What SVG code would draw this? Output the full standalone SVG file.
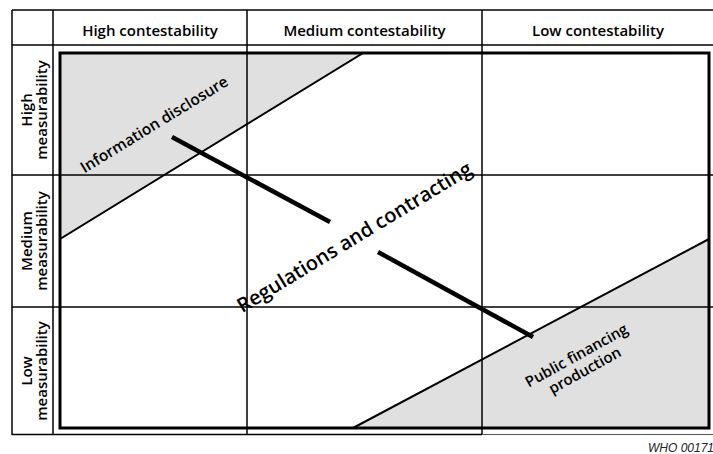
<svg xmlns="http://www.w3.org/2000/svg" width="713" height="454" viewBox="0 0 713 454">
<style>
.t{font-family:"Open Sans","Liberation Sans",sans-serif;font-weight:600;fill:#000}
.h{font-size:15px;text-anchor:middle}
.g{stroke:#000;stroke-width:1.5;fill:none}
.shade{fill:#e0e0e0;stroke:#000;stroke-width:2}
</style>
<rect width="713" height="454" fill="#fff"/>
<g id="shapes">
<polygon class="shade" points="60,53 363,53 60,239"/>
<polygon class="shade" points="709,239 709,428 353,428"/>
</g>
<g id="grid">
<line class="g" x1="12" y1="10" x2="713" y2="10" stroke-width="2"/>
<line class="g" x1="12" y1="45" x2="713" y2="45"/>
<line class="g" x1="12" y1="10" x2="12" y2="435" stroke-width="2"/>
<line class="g" x1="53" y1="10" x2="53" y2="435"/>
<line class="g" x1="247" y1="10" x2="247" y2="435"/>
<line class="g" x1="482" y1="10" x2="482" y2="435"/>
<line class="g" x1="12" y1="175" x2="713" y2="175"/>
<line class="g" x1="12" y1="307" x2="713" y2="307"/>
<line class="g" x1="12" y1="434.5" x2="482" y2="434.5" stroke-width="2.5"/>
<line x1="482" y1="434.5" x2="713" y2="434.5" stroke="#555" stroke-width="1.2"/>
<rect x="60" y="53" width="649" height="375" fill="none" stroke="#000" stroke-width="3"/>
</g>
<g id="connectors">
<line x1="172" y1="137" x2="330" y2="222" stroke="#000" stroke-width="4.5"/>
<line x1="378" y1="252" x2="533" y2="337" stroke="#000" stroke-width="4.5"/>
</g>
<g id="headers">
<text class="t h" x="150" y="36">High contestability</text>
<text class="t h" x="364.5" y="36">Medium contestability</text>
<text class="t h" x="598" y="36">Low contestability</text>
<text class="t h" transform="translate(0,110) rotate(-90)"><tspan x="0" y="31.5">High</tspan><tspan x="0" y="47">measurability</tspan></text>
<text class="t h" transform="translate(0,241) rotate(-90)"><tspan x="0" y="31.5">Medium</tspan><tspan x="0" y="47">measurability</tspan></text>
<text class="t h" transform="translate(0,371) rotate(-90)"><tspan x="0" y="31.5">Low</tspan><tspan x="0" y="47">measurability</tspan></text>
</g>
<g id="labels">
<text class="t" font-size="15.5" text-anchor="middle" transform="translate(157,129) rotate(-31.5)">Information disclosure</text>
<text class="t" font-size="20" font-weight="700" text-anchor="middle" transform="translate(358,243) rotate(-31.3)">Regulations and contracting</text>
<text class="t" font-size="15" text-anchor="middle" transform="translate(579,360) rotate(-29)"><tspan x="0" y="0">Public financing</tspan><tspan x="0" y="17">production</tspan></text>
</g>
<text x="648" y="452" font-family="Liberation Sans,sans-serif" font-style="italic" font-size="12" fill="#222">WHO 00171</text>
</svg>
